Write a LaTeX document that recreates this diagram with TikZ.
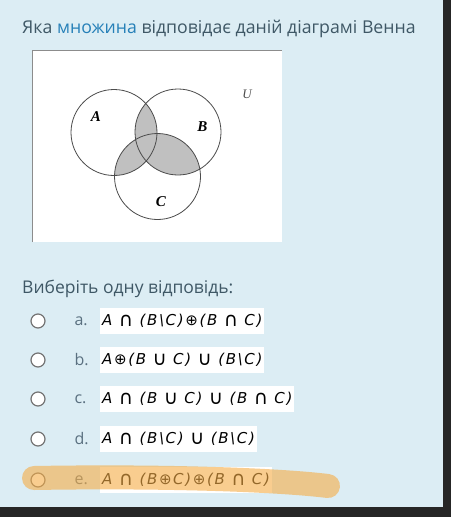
\documentclass[tikz,border=0pt]{standalone}
\usepackage{fontspec}
\setmainfont{Open Sans}
\newfontfamily\vennfont{Liberation Serif}
\newfontfamily\formfont[LetterSpace=11]{DejaVu Sans}
\usetikzlibrary{positioning}
\definecolor{bgblue}{HTML}{DCEDF4}
\definecolor{frame}{HTML}{262626}
\definecolor{uigray}{HTML}{3F5866}
\definecolor{lblgray}{HTML}{5A7080}
\definecolor{linkblue}{HTML}{2680B8}
\definecolor{venngray}{HTML}{C0C0C0}
\definecolor{marker}{HTML}{F5AC45}
\tikzset{
	radio/.style={circle, draw=black!55, fill=white, line width=1.2pt, minimum size=14pt, inner sep=0pt},
	optlabel/.style={anchor=west, text=lblgray, font=\fontsize{16}{18}\selectfont},
	formula/.style={anchor=west, fill=white, minimum height=26pt, inner sep=2pt, font=\formfont\fontsize{15}{17}\selectfont},
	setlabel/.style={font=\vennfont\bfseries\itshape\fontsize{15}{16}\selectfont},
}
\newcommand{\setmin}{\textbackslash}
\newcommand{\op}[1]{\raisebox{-0.5pt}{\scalebox{1.3}{#1}}}

\begin{document}
\begin{tikzpicture}[x=1pt, y=-1pt]
\useasboundingbox (0,0) rectangle (451,517);
\fill[frame] (0,0) rectangle (451,517);
\fill[bgblue] (0,0) rectangle (443,507);
\node[anchor=base west, text=uigray, inner sep=0pt, font=\fontsize{17.7}{20}\selectfont] (title) at (22,33) {Яка \textcolor{linkblue}{множина} відповідає даній діаграмі Венна};
% venn diagram
\fill[white] (32,50) rectangle (282,242);
\draw[black!45] (32,242) -- (32,50) -- (282,50);
\coordinate (ca) at (114,132.5);
\coordinate (cb) at (178,132);
\coordinate (cc) at (157.5,176.5);
\begin{scope}
	\clip (ca) circle[radius=43pt];
	\fill[venngray] (cb) circle[radius=43pt];
	\fill[venngray] (cc) circle[radius=43pt];
\end{scope}
\begin{scope}
	\clip (cb) circle[radius=43pt];
	\fill[venngray] (cc) circle[radius=43pt];
\end{scope}
\draw[black!70, line width=0.8pt] (ca) circle[radius=43pt] (cb) circle[radius=43pt] (cc) circle[radius=43pt];
\node[setlabel] (la) at (96,116.5) {A};
\node[setlabel] (lb) at (202.5,126.5) {B};
\node[setlabel] (lc) at (161,202) {C};
\node[font=\vennfont\itshape\fontsize{13}{14}\selectfont, text=black!70] (lu) at (247,94) {U};
% answers
\node[anchor=base west, text=uigray, inner sep=0pt, font=\fontsize{17.5}{20}\selectfont] (choose) at (22,293) {Виберіть одну відповідь:};
\foreach \y/\lbl/\f in {
	321/a/{A \op{∩} (B\setmin C)⊕(B \op{∩} C)},
	360/b/{A⊕(B \op{∪} C) \op{∪} (B\setmin C)},
	399/c/{A \op{∩} (B \op{∪} C) \op{∪} (B \op{∩} C)},
	439/d/{A \op{∩} (B\setmin C) \op{∪} (B\setmin C)},
	480/e/{A \op{∩} (B⊕C)⊕(B \op{∩} C)}}{
	\node[radio] (radio\lbl) at (38,\y) {};
	\node[optlabel] (opt\lbl) at (71,\y) {\lbl.};
	\node[formula] (form\lbl) at (100,\y) {\itshape\f};
}
\draw[marker, opacity=0.6, line width=24pt, line cap=round] (34,478) .. controls (150,476) and (270,479) .. (328,486);
\end{tikzpicture}
\end{document}
